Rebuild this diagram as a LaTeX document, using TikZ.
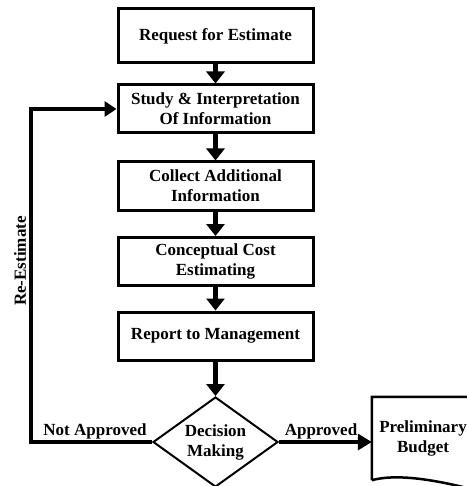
\documentclass[tikz,border=0pt]{standalone}
\usepackage{fontspec}
\setmainfont{Liberation Serif}
\usetikzlibrary{arrows.meta,shapes.geometric}
\begin{document}
\begin{tikzpicture}[x=1pt,y=-1pt,
  font=\fontsize{17}{20}\selectfont\bfseries,
  stepbox/.style={draw,line width=3pt,minimum width=195pt,minimum height=48pt,
    inner sep=2pt,align=center},
  flow/.style={line width=5pt,-{Triangle[width=18pt,length=12pt]}},
  lbl/.style={inner sep=0pt}]
\useasboundingbox (0,0) rectangle (466,486);
% process steps
\node[stepbox,minimum height=54pt] (b1) at (215.5,36) {Request for Estimate};
\node[stepbox] (b2) at (215.5,109) {Study \& Interpretation\\Of Information};
\node[stepbox] (b3) at (215.5,186) {Collect Additional\\Information};
\node[stepbox] (b4) at (215.5,261.5) {Conceptual Cost\\Estimating};
\node[stepbox] (b5) at (215.5,336) {Report to Management};
% decision
\node[diamond,draw,line width=2pt,minimum width=125pt,minimum height=90pt,
  aspect=1.39,inner sep=0pt,align=center] (d) at (215.5,442) {Decision\\Making};
% output document: text area, then the outline with its wavy lower edge
\node[minimum width=106pt,minimum height=83pt,inner sep=0pt] (doc) at (425,438.5) {};
\node[align=center,inner sep=0pt] (doctext) at (423,438) {Preliminary\\Budget};
\draw[line width=2.5pt,line join=miter]
  (doc.south west) -- (doc.north west) -- ([xshift=20pt]doc.north east)
  -- ([xshift=20pt,yshift=-16pt]doc.south east)
  .. controls ([xshift=-30pt,yshift=-2pt]doc.south east)
  and ([xshift=30pt,yshift=8pt]doc.south west) .. (doc.south west);
% connectors
\draw[flow] (b1) -- (b2);
\draw[flow] (b2) -- (b3);
\draw[flow] (b3) -- (b4);
\draw[flow] (b4) -- (b5);
\draw[flow] (b5) -- (d);
\draw[line width=4pt,-{Triangle[width=16pt,length=14pt]}] (d.east) -- (d.east -| doc.west);
\coordinate (loop) at (31,0);
\draw[line width=4pt,line join=miter,-{Triangle[width=15pt,length=12pt]}]
  (d.west) -- (d.west -| loop) -- (b2.west -| loop) -- (b2.west);
% labels
\node[lbl] (na) at (95,431) {Not Approved};
\node[lbl] (ap) at (321,431) {Approved};
\node[lbl,rotate=90] (re) at (20,261) {Re-Estimate};
\end{tikzpicture}
\end{document}
